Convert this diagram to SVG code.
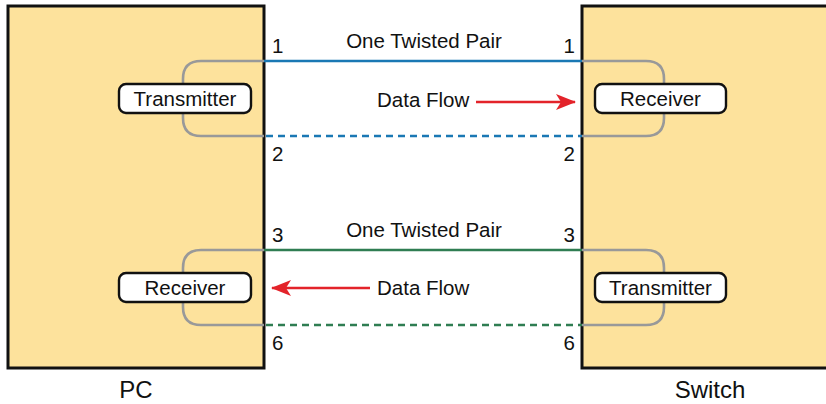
<svg xmlns="http://www.w3.org/2000/svg" width="826" height="404" viewBox="0 0 826 404">
<defs>
<marker id="arr" markerWidth="20" markerHeight="16" viewBox="0 0 20 16" refX="19" refY="8" orient="auto" markerUnits="userSpaceOnUse">
<path d="M0,0 L20,8 L0,16 L5,8 Z" fill="#E3232A"/>
</marker>
<style>
text{font-family:"Liberation Sans",Arial,sans-serif;fill:#111;}
.t{font-size:20.5px;}
.big{font-size:24px;}
.dev{fill:#FDE29C;stroke:#111;stroke-width:3;}
.lbl{fill:#fff;stroke:#111;stroke-width:2.4;}
.loop{fill:none;stroke:#999;stroke-width:2.6;}
.blue{stroke:#1A78B4;stroke-width:2.5;fill:none;}
.green{stroke:#2F7D52;stroke-width:2.5;fill:none;}
.dash{stroke-dasharray:7 5;}
.flow{stroke:#E3232A;stroke-width:2.6;fill:none;}
</style>
</defs>
<g id="pc">
<rect class="dev" x="8" y="6" width="256" height="362"/>
<text class="big" x="136" y="398" text-anchor="middle">PC</text>
</g>
<g id="switch">
<rect class="dev" x="582" y="6" width="260" height="362"/>
<text class="big" x="710" y="398" text-anchor="middle">Switch</text>
</g>
<g id="connectors">
<path class="loop" d="M264,61 H201 Q183,61 183,79 V118 Q183,136 201,136 H264"/>
<path class="loop" d="M582,61 H646 Q664,61 664,79 V118 Q664,136 646,136 H582"/>
<path class="loop" d="M264,250 H201 Q183,250 183,268 V307 Q183,325 201,325 H264"/>
<path class="loop" d="M582,250 H646 Q664,250 664,268 V307 Q664,325 646,325 H582"/>
<line class="blue" x1="264" y1="61" x2="582" y2="61"/>
<line class="blue dash" x1="266" y1="136" x2="582" y2="136"/>
<line class="green" x1="264" y1="250" x2="582" y2="250"/>
<line class="green dash" x1="266" y1="325" x2="582" y2="325"/>
<line class="flow" x1="476" y1="102" x2="575" y2="102" marker-end="url(#arr)"/>
<line class="flow" x1="370" y1="288" x2="272" y2="288" marker-end="url(#arr)"/>
</g>
<g id="pc-transmitter">
<rect class="lbl" x="119" y="84" width="132" height="29" rx="7"/>
<text class="t" x="185" y="106" text-anchor="middle">Transmitter</text>
</g>
<g id="switch-receiver">
<rect class="lbl" x="595" y="84" width="131" height="29" rx="7"/>
<text class="t" x="660.5" y="106" text-anchor="middle">Receiver</text>
</g>
<g id="pc-receiver">
<rect class="lbl" x="119" y="273" width="132" height="29" rx="7"/>
<text class="t" x="185" y="295" text-anchor="middle">Receiver</text>
</g>
<g id="switch-transmitter">
<rect class="lbl" x="595" y="273" width="131" height="29" rx="7"/>
<text class="t" x="660.5" y="295" text-anchor="middle">Transmitter</text>
</g>
<g id="labels">
<text class="t" x="424" y="48" text-anchor="middle">One Twisted Pair</text>
<text class="t" x="424" y="237" text-anchor="middle">One Twisted Pair</text>
<text class="t" x="377" y="107">Data Flow</text>
<text class="t" x="377" y="295">Data Flow</text>
<text class="t" x="272" y="53">1</text>
<text class="t" x="272" y="161">2</text>
<text class="t" x="272" y="242">3</text>
<text class="t" x="272" y="350">6</text>
<text class="t" x="575" y="53" text-anchor="end">1</text>
<text class="t" x="575" y="161" text-anchor="end">2</text>
<text class="t" x="575" y="242" text-anchor="end">3</text>
<text class="t" x="575" y="350" text-anchor="end">6</text>
</g>
</svg>
